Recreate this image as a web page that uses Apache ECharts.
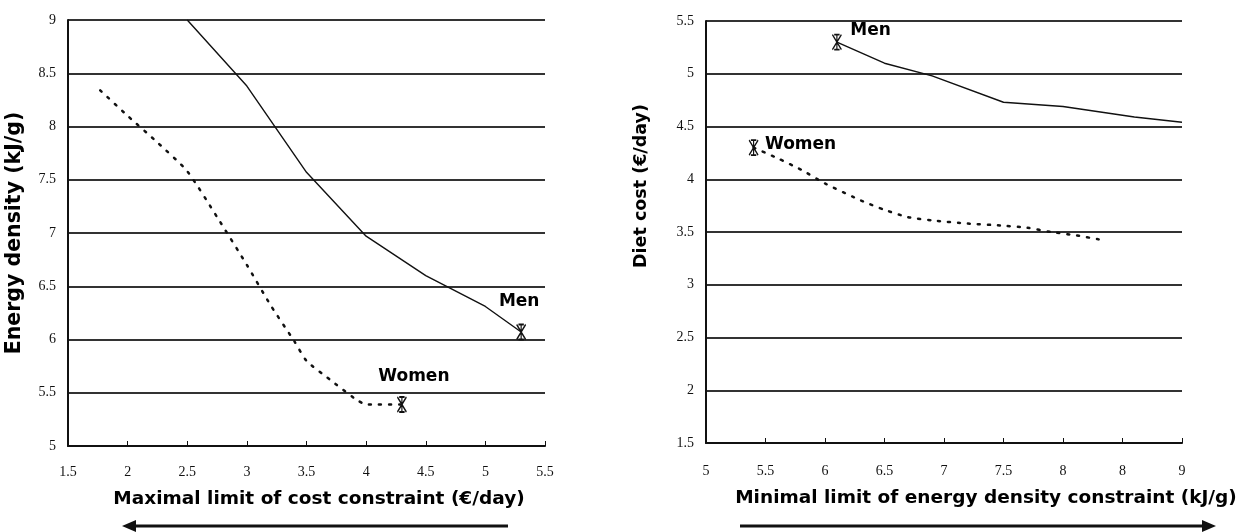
<!DOCTYPE html>
<html>
<head>
<meta charset="utf-8">
<script src="https://cdn.jsdelivr.net/npm/echarts@6/dist/echarts.min.js"></script>
<style>
  html, body { margin: 0; padding: 0; background: #fff; }
  #chart { width: 1244px; height: 532px; }
</style>
</head>
<body>
<div id="chart"></div>
<script>
// left panel: energy density vs maximal cost limit
const menCost = [[2.5, 9.0], [3.0, 8.38], [3.5, 7.57], [4.0, 6.97], [4.5, 6.6], [5.0, 6.31], [5.3, 6.07]]
const womenCost = [[1.77, 8.34], [2.0, 8.1], [2.25, 7.85], [2.5, 7.58], [2.75, 7.15], [3.0, 6.7], [3.2, 6.32],
  [3.4, 5.98], [3.5, 5.8], [3.7, 5.62], [3.9, 5.45], [4.0, 5.39], [4.3, 5.39]]

// right panel: diet cost vs minimal energy density limit
const menDensity = [[6.1, 5.3], [6.5, 5.1], [6.9, 4.98], [7.5, 4.73], [8.0, 4.69], [8.3, 4.64], [8.6, 4.59], [9.0, 4.54]]
const womenDensity = [[5.4, 4.3], [5.6, 4.2], [5.8, 4.09], [6.0, 3.96], [6.3, 3.8], [6.5, 3.71], [6.7, 3.64],
  [6.9, 3.61], [7.2, 3.58], [7.5, 3.56], [7.7, 3.54], [7.9, 3.5], [8.1, 3.47], [8.3, 3.43]]

const rightXLabels = ['5', '5.5', '6', '6.5', '7', '7.5', '8', '8', '9']

const ink = '#111'
const gridCol = '#333'
const tickFont = { fontFamily: 'Liberation Serif', fontSize: 14, color: '#111' }
const titleFont = { fontFamily: 'DejaVu Sans', fontWeight: 'bold', fontSize: 18.5, color: '#000' }
const starPath = 'path://M0,0L10,16M10,0L0,16M5,0L5,16M2,0L8,0M2,16L8,16'

function valueAxis(opts) {
    return Object.assign({
        type: 'value',
        interval: 0.5,
        axisLine: { show: true, lineStyle: { color: ink, width: 2 } },
        splitLine: { show: true, lineStyle: { color: gridCol, width: 1.8 } },
        axisLabel: Object.assign({ margin: 12 }, tickFont),
        nameLocation: 'middle',
        nameTextStyle: Object.assign({}, titleFont)
    }, opts)
}

function endMarker(name, point, xi, yi, labelOpts) {
    return {
        name: name,
        type: 'scatter',
        xAxisIndex: xi,
        yAxisIndex: yi,
        data: [point],
        symbol: starPath,
        symbolSize: [9, 15],
        itemStyle: { color: 'none', borderColor: ink, borderWidth: 1.5, opacity: 1 },
        label: Object.assign({
            show: true,
            formatter: name,
            fontFamily: 'DejaVu Sans',
            fontWeight: 'bold',
            fontSize: 17,
            color: '#000',
            opacity: 1
        }, labelOpts),
        z: 5
    }
}

const chart = echarts.init(document.getElementById('chart'))
chart.setOption({
    animation: false,
    backgroundColor: '#fff',
    grid: [
        { left: 68, top: 20, width: 477, height: 426 },
        { left: 706, top: 21, width: 476, height: 422 }
    ],
    xAxis: [
        valueAxis({
            gridIndex: 0, min: 1.5, max: 5.5,
            splitLine: { show: false },
            axisTick: { show: true, inside: true, length: 5, lineStyle: { color: ink } },
            name: 'Maximal limit of cost constraint (€/day)',
            nameGap: 44,
            nameTextStyle: Object.assign({ padding: [0, 0, 0, 25] }, titleFont),
            axisLabel: Object.assign({ margin: 19 }, tickFont)
        }),
        valueAxis({
            gridIndex: 1, min: 5, max: 9,
            splitLine: { show: false },
            axisTick: { show: true, inside: true, length: 5, lineStyle: { color: ink } },
            name: 'Minimal limit of energy density constraint (kJ/g)',
            nameGap: 46,
            nameTextStyle: Object.assign({ padding: [0, 0, 0, 84] }, titleFont),
            axisLabel: Object.assign({
                margin: 21,
                formatter: v => rightXLabels[Math.round((v - 5) / 0.5)]
            }, tickFont)
        })
    ],
    yAxis: [
        valueAxis({
            gridIndex: 0, min: 5, max: 9,
            axisTick: { show: false },
            name: 'Energy density (kJ/g)',
            nameGap: 43,
            nameTextStyle: Object.assign({}, titleFont, { fontSize: 20.5 })
        }),
        valueAxis({
            gridIndex: 1, min: 1.5, max: 5.5,
            axisTick: { show: false },
            name: 'Diet cost (€/day)',
            nameGap: 56,
            nameTextStyle: Object.assign({ padding: [0, 0, 0, 92] }, titleFont, { fontSize: 17.5 })
        })
    ],
    series: [
        {
            name: 'Men', type: 'line', xAxisIndex: 0, yAxisIndex: 0,
            data: menCost, symbol: 'none',
            lineStyle: { color: ink, width: 1.4 }
        },
        {
            name: 'Women', type: 'line', xAxisIndex: 0, yAxisIndex: 0,
            data: womenCost, symbol: 'none', smooth: 0.2,
            lineStyle: { color: ink, width: 2.5, type: [2, 8], cap: 'round' }
        },
        endMarker('Men', menCost[menCost.length - 1], 0, 0, { position: 'top', offset: [-2, -6] }),
        endMarker('Women', womenCost[womenCost.length - 1], 0, 0, { position: 'top', offset: [12, -4] }),
        {
            name: 'Men', type: 'line', xAxisIndex: 1, yAxisIndex: 1,
            data: menDensity, symbol: 'none',
            lineStyle: { color: ink, width: 1.4 }
        },
        {
            name: 'Women', type: 'line', xAxisIndex: 1, yAxisIndex: 1,
            data: womenDensity, symbol: 'none', smooth: 0.2,
            lineStyle: { color: ink, width: 2.5, type: [2, 8], cap: 'round' }
        },
        endMarker('Men', menDensity[0], 1, 1, { position: 'right', offset: [2, -12] }),
        endMarker('Women', womenDensity[0], 1, 1, { position: 'right', offset: [0, -3] })
    ],
    graphic: [
        {
            type: 'group',
            children: [
                { type: 'line', shape: { x1: 132, y1: 526, x2: 508, y2: 526 }, style: { stroke: ink, lineWidth: 3 } },
                { type: 'polygon', shape: { points: [[122, 526], [136, 520], [136, 532]] }, style: { fill: ink } }
            ]
        },
        {
            type: 'group',
            children: [
                { type: 'line', shape: { x1: 740, y1: 526, x2: 1206, y2: 526 }, style: { stroke: ink, lineWidth: 3 } },
                { type: 'polygon', shape: { points: [[1216, 526], [1202, 520], [1202, 532]] }, style: { fill: ink } }
            ]
        }
    ]
})
</script>
</body>
</html>
